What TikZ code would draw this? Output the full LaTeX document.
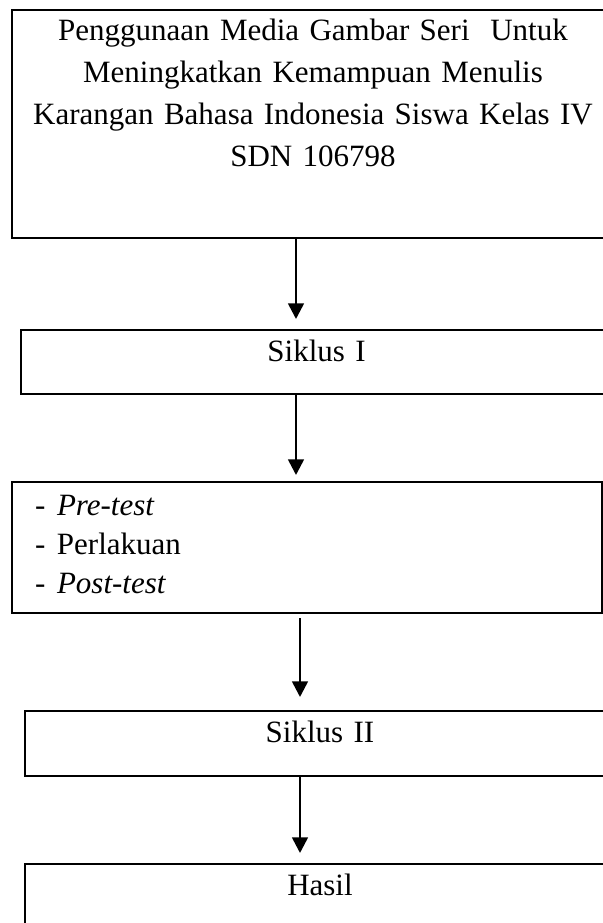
\documentclass[tikz,border=0pt]{standalone}
\usepackage{fontspec}
\setmainfont{Liberation Serif}
\usetikzlibrary{arrows.meta}

\begin{document}
        \begin{tikzpicture}[x=0.5pt,y=-0.5pt,
            caja/.style={draw,line width=1.1pt,anchor=north west,inner sep=0pt,outer sep=0pt,align=center,font=\fontsize{15.5}{21}\selectfont},
            flecha/.style={line width=1.3pt,-{Triangle[length=7.8pt,width=7.8pt]}}] %Alur penelitian tindakan kelas
            \useasboundingbox (0,0) rectangle (603,923);
            \clip (0,0) rectangle (603,923);

            \node[caja,text width=301pt,text height=15pt,text depth=99pt] (judul) at (12,10) {Penggunaan Media Gambar Seri\ \ Untuk\\ Meningkatkan Kemampuan Menulis\\ Karangan Bahasa Indonesia Siswa Kelas IV\\ SDN 106798};
            \node[caja,text width=295.5pt,text height=15.5pt,text depth=16.5pt] (siklus1) at (21,330) {Siklus I};
            \node[caja,align=left,text width=272pt,inner xsep=11.5pt,text height=16.5pt,text depth=49pt,font=\fontsize{15.5}{19.5}\selectfont] (tahap) at (12,482) {\makebox[11pt][l]{-}\textit{Pre-test}\\ \makebox[11pt][l]{-}Perlakuan\\ \makebox[11pt][l]{-}\textit{Post-test}};
            \node[caja,text width=295pt,text height=15.5pt,text depth=17pt] (siklus2) at (25,711) {Siklus II};
            \node[caja,text width=295pt,text height=15.5pt,text depth=20pt] (hasil) at (25,864) {Hasil};

            \coordinate (p1) at (296,0);
            \coordinate (p2) at (300,0);
            \draw[flecha,shorten >=5.5pt] (judul.south -| p1) -- (siklus1.north -| p1);
            \draw[flecha,shorten >=3.5pt] (siklus1.south -| p1) -- (tahap.north -| p1);
            \draw[flecha,shorten <=2.5pt,shorten >=7pt] (tahap.south -| p2) -- (siklus2.north -| p2);
            \draw[flecha,shorten >=5.5pt] (siklus2.south -| p2) -- (hasil.north -| p2);
        \end{tikzpicture}
\end{document}
